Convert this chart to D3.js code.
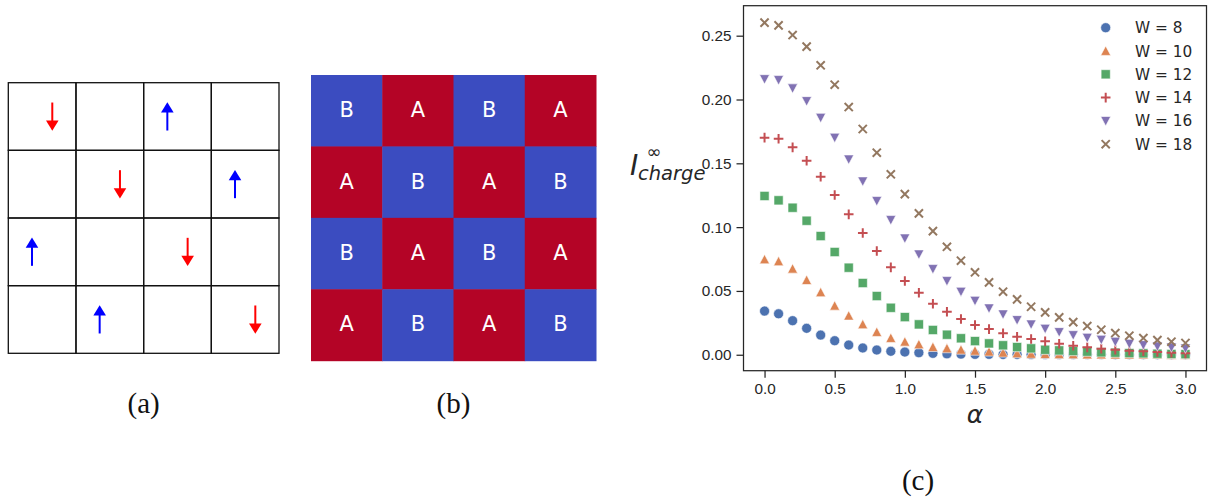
<!DOCTYPE html>
<html lang="en">
<head>
    <meta charset="UTF-8">
    <title>Spin lattice, sublattices and charge correlation</title>
    <script src="https://d3js.org/d3.v7.min.js"></script>
    <style>
        body {
            margin: 0;
            background: #fff;
        }
        svg {
            display: block;
            font-family: 'DejaVu Sans', sans-serif;
        }
        .caption {
            font-family: 'Liberation Serif', serif;
            font-size: 29px;
            fill: #111;
        }
        .axis text {
            font-size: 15.3px;
            fill: #262626;
        }
        .axis path, .axis line {
            stroke: #262626;
            stroke-width: 1.25px;
        }
    </style>
</head>
<body>
<script>
    // panel (a): spins on a 4x4 lattice
    const spins = [
        { row: 0, col: 0, dir: "down" },
        { row: 0, col: 2, dir: "up" },
        { row: 1, col: 1, dir: "down" },
        { row: 1, col: 3, dir: "up" },
        { row: 2, col: 0, dir: "up" },
        { row: 2, col: 2, dir: "down" },
        { row: 3, col: 1, dir: "up" },
        { row: 3, col: 3, dir: "down" }
    ];

    // panel (b): sublattice labels, row by row
    const sublattice = [
        ["B", "A", "B", "A"],
        ["A", "B", "A", "B"],
        ["B", "A", "B", "A"],
        ["A", "B", "A", "B"]
    ];

    // panel (c): I_charge vs alpha for several widths
    const alpha = d3.range(31).map(i => i / 10);
    const widths = [8, 10, 12, 14, 16, 18];
    const w8 = [0.0342, 0.0321, 0.0267, 0.0207, 0.0154, 0.0110, 0.0076, 0.0053, 0.0037, 0.0027, 0.0021,
        0.0016, 0.0011, 0.0007, 0.0005, 0.0003, 0.0003, 0.0002, 0.0002, 0.0001, 0.0001,
        0.0001, 0.0001, 0.0001, 0.0001, 0.0000, 0.0000, 0.0000, 0.0000, 0.0000, 0.0000];
    const w10 = [0.0747, 0.0732, 0.0674, 0.0585, 0.0489, 0.0384, 0.0306, 0.0238, 0.0178, 0.0131, 0.0102,
        0.0081, 0.0060, 0.0050, 0.0039, 0.0031, 0.0024, 0.0016, 0.0011, 0.0007, 0.0005,
        0.0004, 0.0003, 0.0002, 0.0002, 0.0001, 0.0001, 0.0001, 0.0001, 0.0000, 0.0000];
    const w12 = [0.1244, 0.1210, 0.1152, 0.1050, 0.0930, 0.0805, 0.0682, 0.0562, 0.0460, 0.0368, 0.0295,
        0.0238, 0.0194, 0.0157, 0.0129, 0.0107, 0.0089, 0.0074, 0.0060, 0.0050, 0.0039,
        0.0034, 0.0029, 0.0024, 0.0019, 0.0016, 0.0013, 0.0011, 0.0008, 0.0006, 0.0005];
    const w14 = [0.1701, 0.1693, 0.1625, 0.1520, 0.1395, 0.1252, 0.1100, 0.0954, 0.0813, 0.0685, 0.0578,
        0.0486, 0.0400, 0.0337, 0.0280, 0.0233, 0.0201, 0.0168, 0.0141, 0.0123, 0.0105,
        0.0086, 0.0071, 0.0058, 0.0047, 0.0039, 0.0031, 0.0027, 0.0021, 0.0016, 0.0011];
    const w16 = [0.2160, 0.2153, 0.2088, 0.1988, 0.1857, 0.1701, 0.1531, 0.1359, 0.1205, 0.1056, 0.0912,
        0.0787, 0.0672, 0.0578, 0.0494, 0.0423, 0.0364, 0.0317, 0.0272, 0.0238, 0.0204,
        0.0178, 0.0154, 0.0133, 0.0118, 0.0102, 0.0086, 0.0076, 0.0066, 0.0058, 0.0050];
    const w18 = [0.2602, 0.2581, 0.2505, 0.2414, 0.2268, 0.2116, 0.1941, 0.1769, 0.1583, 0.1414, 0.1259,
        0.1108, 0.0969, 0.0846, 0.0737, 0.0646, 0.0567, 0.0494, 0.0434, 0.0376, 0.0332,
        0.0293, 0.0256, 0.0225, 0.0196, 0.0170, 0.0149, 0.0131, 0.0115, 0.0102, 0.0092];
    const seriesValues = [w8, w10, w12, w14, w16, w18];
    const xTicks = [0, 0.5, 1, 1.5, 2, 2.5, 3];
    const yTicks = [0, 0.05, 0.1, 0.15, 0.2, 0.25];

    const colors = ["#4c72b0", "#dd8452", "#55a868", "#c44e52", "#8172b3", "#937860"];
    const shapes = ["circle", "triangleUp", "square", "plus", "triangleDown", "cross"];

    const svg = d3.select("body").append("svg")
        .attr("width", 1208)
        .attr("height", 502);

    // ---------- (a) ----------
    const ax = d3.scaleBand().domain(d3.range(4)).range([8.3, 279]);
    const ay = d3.scaleBand().domain(d3.range(4)).range([82.7, 353.3]);
    const ga = svg.append("g");

    ga.selectAll("rect.cell")
        .data(d3.cross(d3.range(4), d3.range(4)))
        .enter().append("rect")
        .attr("x", d => ax(d[1]))
        .attr("y", d => ay(d[0]))
        .attr("width", ax.bandwidth())
        .attr("height", ay.bandwidth())
        .attr("fill", "none")
        .attr("stroke", "#111")
        .attr("stroke-width", 1.3);

    ga.selectAll("g.spin")
        .data(spins)
        .enter().append("g")
        .attr("transform", d => {
            const cx = ax(d.col) + ax.bandwidth() * (d.dir === "down" ? 0.65 : 0.35);
            const cy = ay(d.row) + ay.bandwidth() * 0.5;
            return `translate(${cx},${cy})`;
        })
        .each(function(d) {
            const g = d3.select(this);
            const col = d.dir === "down" ? "#ff0000" : "#0000ff";
            const s = d.dir === "down" ? 1 : -1;
            g.append("line")
                .attr("x1", 0).attr("x2", 0)
                .attr("y1", -14 * s).attr("y2", 5 * s)
                .attr("stroke", col).attr("stroke-width", 2);
            g.append("path")
                .attr("d", `M-6.3,${4 * s}L6.3,${4 * s}L0,${14.3 * s}Z`)
                .attr("fill", col);
        });

    svg.append("text").attr("class", "caption")
        .attr("x", 143.6).attr("y", 413)
        .attr("text-anchor", "middle")
        .text("(a)");

    // ---------- (b) ----------
    const bx = d3.scaleBand().domain(d3.range(4)).range([311, 596]);
    const by = d3.scaleBand().domain(d3.range(4)).range([75, 360.7]);
    const cellData = [];
    sublattice.forEach((r, i) => r.forEach((v, j) => cellData.push({ row: i, col: j, v: v })));

    svg.append("g").selectAll("rect")
        .data(cellData)
        .enter().append("rect")
        .attr("x", d => bx(d.col))
        .attr("y", d => by(d.row))
        .attr("width", bx.bandwidth() + 0.5)
        .attr("height", by.bandwidth() + 0.5)
        .attr("fill", d => d.v === "A" ? "#b40426" : "#3b4cc0");

    svg.append("g").selectAll("text")
        .data(cellData)
        .enter().append("text")
        .attr("x", d => bx(d.col) + bx.bandwidth() / 2)
        .attr("y", d => by(d.row) + by.bandwidth() / 2 + 6.5)
        .attr("text-anchor", "middle")
        .attr("font-size", 21)
        .attr("fill", "#fff")
        .text(d => d.v);

    svg.append("text").attr("class", "caption")
        .attr("x", 453.5).attr("y", 413)
        .attr("text-anchor", "middle")
        .text("(b)");

    // ---------- (c) ----------
    const pLeft = 743.5, pRight = 1206.5, pTop = 5.7, pBottom = 370.7;
    const x = d3.scaleLinear().domain([-0.15, 3.15]).range([pLeft, pRight]);
    const y = d3.scaleLinear().domain([-0.0125, 0.2735]).range([pBottom, pTop]);

    function markerPath(shape) {
        const r = 5;
        switch (shape) {
            case "circle": return d3.symbol(d3.symbolCircle, Math.PI * r * r)();
            case "square": return `M${-r + 0.4},${-r + 0.4}H${r - 0.4}V${r - 0.4}H${-r + 0.4}Z`;
            case "triangleUp": return `M0,${-r}L${r},${r - 0.6}L${-r},${r - 0.6}Z`;
            case "triangleDown": return `M0,${r}L${r},${-r + 0.6}L${-r},${-r + 0.6}Z`;
            case "plus": return `M${-r + 0.2},0H${r - 0.2}M0,${-r + 0.2}V${r - 0.2}`;
            case "cross": return `M-4.1,-4.1L4.1,4.1M-4.1,4.1L4.1,-4.1`;
        }
    }
    const lineShape = s => s === "plus" || s === "cross";

    function drawMarker(sel, i) {
        sel.attr("d", markerPath(shapes[i]))
            .attr("fill", lineShape(shapes[i]) ? "none" : colors[i])
            .attr("stroke", lineShape(shapes[i]) ? colors[i] : "#fff")
            .attr("stroke-width", lineShape(shapes[i]) ? 2 : 0.6);
    }

    seriesValues.forEach((vals, i) => {
        svg.append("g").selectAll("path")
            .data(vals)
            .enter().append("path")
            .attr("transform", (d, k) => `translate(${x(alpha[k])},${y(d)})`)
            .call(drawMarker, i);
    });

    svg.append("rect")
        .attr("x", pLeft).attr("y", pTop)
        .attr("width", pRight - pLeft).attr("height", pBottom - pTop)
        .attr("fill", "none")
        .attr("stroke", "#262626")
        .attr("stroke-width", 1.25);

    svg.append("g")
        .attr("class", "axis")
        .attr("transform", `translate(0,${pBottom})`)
        .call(d3.axisBottom(x).tickValues(xTicks).tickFormat(d3.format(".1f")).tickSize(7).tickSizeOuter(0).tickPadding(5))
        .call(g => g.select(".domain").remove());

    svg.append("g")
        .attr("class", "axis")
        .attr("transform", `translate(${pLeft},0)`)
        .call(d3.axisLeft(y).tickValues(yTicks).tickFormat(d3.format(".2f")).tickSize(7).tickSizeOuter(0).tickPadding(5))
        .call(g => g.select(".domain").remove());

    // axis labels
    svg.append("text")
        .attr("x", x(1.5)).attr("y", 423)
        .attr("text-anchor", "middle")
        .attr("font-size", 25)
        .attr("font-style", "italic")
        .attr("fill", "#262626")
        .text("α");

    const ylab = svg.append("text")
        .attr("x", 630).attr("y", 175)
        .attr("fill", "#262626")
        .attr("font-style", "italic");
    ylab.append("tspan").attr("font-size", 28).text("I");
    ylab.append("tspan").attr("font-size", 18).attr("font-style", "normal")
        .attr("x", 646.5).attr("y", 158).text("∞");
    ylab.append("tspan").attr("font-size", 19.5)
        .attr("x", 638).attr("y", 180).text("charge");

    // legend
    const legend = svg.append("g").selectAll("g")
        .data(widths)
        .enter().append("g")
        .attr("transform", (d, i) => `translate(1105.7,${27.7 + i * 23.3})`);
    legend.append("path").each(function(d, i) { d3.select(this).call(drawMarker, i); });
    legend.append("text")
        .attr("x", 29.3).attr("y", 5.5)
        .attr("font-size", 15.3)
        .attr("fill", "#262626")
        .text(d => `W = ${d}`);

    svg.append("text").attr("class", "caption")
        .attr("x", 918).attr("y", 490)
        .attr("text-anchor", "middle")
        .text("(c)");
</script>
</body>
</html>
